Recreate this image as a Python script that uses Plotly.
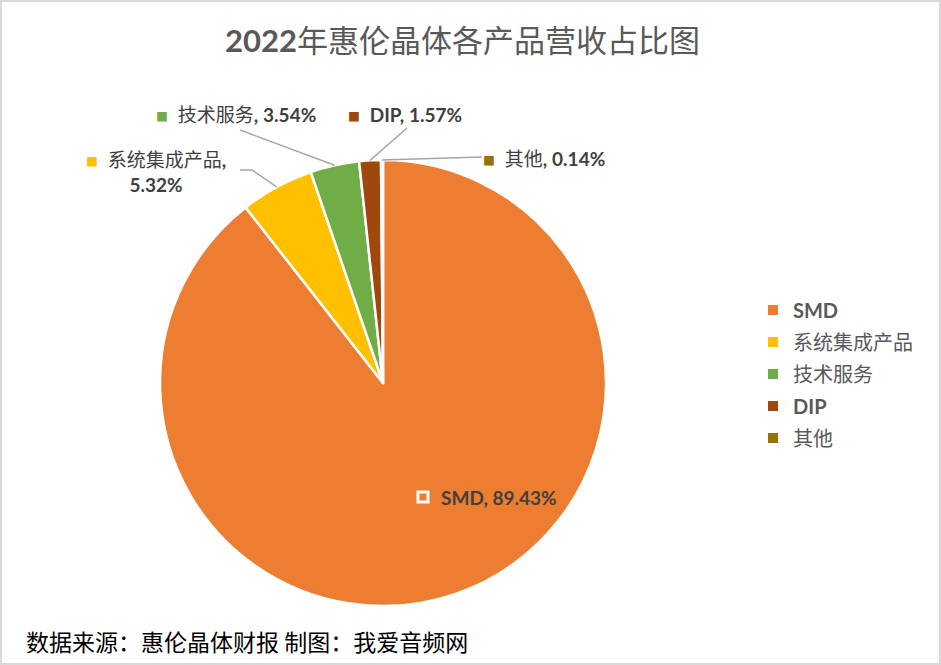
import math
import plotly.graph_objects as go

# ---- data ----
categories = ["SMD", "系统集成产品", "技术服务", "DIP", "其他"]
shares = [89.43, 5.32, 3.54, 1.57, 0.14]
colors = ["#ED7D31", "#FFC000", "#70AD47", "#9E480E", "#997300"]
title_year = "2022"
title_rest = "年惠伦晶体各产品营收占比图"
footer = "数据来源：惠伦晶体财报 制图：我爱音频网"

# ---- layout constants (pixels) ----
W, H = 941, 665
CX, CY, R = 383, 383, 223
LAT = "Lato, 'Noto Sans CJK SC', sans-serif"
CJK = "'Noto Sans CJK SC', sans-serif"


def px(x):
    return x / W


def py(y):
    return 1 - y / H


def edge_point(i):
    total = sum(shares)
    cum = sum(shares[:i]) + shares[i] / 2
    th = 2 * math.pi * cum / total
    return CX + R * math.sin(th), CY - R * math.cos(th)


def fmt_label(i, br=False):
    name = categories[i]
    pct = f"{shares[i]:.2f}%"
    if name.isascii():
        body = f"<b>{name}, {pct}</b>"
    else:
        body = f"{name}<b>,</b>" + ("<br>" if br else " ") + f"<b>{pct}</b>"
    return body


fig = go.Figure()
fig.add_trace(go.Pie(
    labels=categories, values=shares, sort=False, direction="clockwise", rotation=0,
    marker=dict(colors=colors, line=dict(color="white", width=2.5)),
    textinfo="none", showlegend=False, hoverinfo="label+percent",
    domain=dict(x=[px(CX - R), px(CX + R)], y=[py(CY + R), py(CY - R)]),
))

# legend via proxy traces
for name, c in zip(categories, colors):
    fig.add_trace(go.Scatter(
        x=[None], y=[None], mode="markers", name=f"<b>{name}</b>" if name.isascii() else name,
        marker=dict(symbol="square", size=10, color=c), legendgroup=name,
    ))

# label positions (layout) : elbow points and text anchor
label_cfg = {
    1: dict(path=[(252, 170), (240, 170)], text=(156, 172), xanchor="center", br=True),
    2: dict(path=[(240, 130)], text=(236, 114), xanchor="center", br=False),
    3: dict(path=[(407, 128)], text=(405, 114), xanchor="center", br=False),
    4: dict(path=[(482, 157)], text=(481, 158), xanchor="left", br=False),
}

shapes = []
annotations = []
for i, cfg in label_cfg.items():
    ex, ey = edge_point(i)
    pts = [(ex, ey)] + cfg["path"]
    d = "M " + " L ".join(f"{px(x)},{py(y)}" for x, y in pts)
    shapes.append(dict(type="path", path=d, xref="paper", yref="paper",
                       line=dict(color="#A6A6A6", width=1.5)))
    marker = f'<span style="color:{colors[i]};font-size:12px">■</span>  '
    annotations.append(dict(
        x=px(cfg["text"][0]), y=py(cfg["text"][1]), xref="paper", yref="paper",
        xanchor=cfg["xanchor"], yanchor="middle", showarrow=False, align="center",
        text=marker + fmt_label(i, cfg["br"]),
        font=dict(family=LAT, size=19, color="#404040"),
    ))

# SMD inside label (white-outlined key box + text)
shapes.append(dict(type="rect", xref="paper", yref="paper",
                   x0=px(418), x1=px(428), y0=py(502), y1=py(492),
                   line=dict(color="white", width=3), fillcolor=colors[0]))
annotations.append(dict(
    x=px(439), y=py(497), xref="paper", yref="paper", xanchor="left", yanchor="middle",
    showarrow=False, text=fmt_label(0),
    font=dict(family=LAT, size=19, color="#404040"),
))

# title
annotations.append(dict(
    x=px(462), y=py(40), xref="paper", yref="paper", xanchor="center", yanchor="middle",
    showarrow=False, text=f"<b>{title_year}</b>{title_rest}",
    font=dict(family=LAT, size=31, color="#595959"),
))
# footer
annotations.append(dict(
    x=px(24), y=py(641), xref="paper", yref="paper", xanchor="left", yanchor="middle",
    showarrow=False, text=footer, font=dict(family=CJK, size=23, color="#000000"),
))

# frame
shapes.append(dict(type="rect", xref="paper", yref="paper", x0=0.001, y0=0.0015, x1=0.999, y1=0.9985,
                   line=dict(color="#D9D9D9", width=2)))

fig.update_layout(
    width=W, height=H, margin=dict(l=0, r=0, t=0, b=0),
    paper_bgcolor="white", plot_bgcolor="white",
    xaxis=dict(visible=False), yaxis=dict(visible=False),
    showlegend=True,
    legend=dict(x=px(753), y=py(374), xanchor="left", yanchor="middle",
                font=dict(family=LAT, size=20, color="#595959"),
                tracegroupgap=3, itemclick=False, bgcolor="rgba(0,0,0,0)"),
    shapes=shapes, annotations=annotations,
)

fig.write_html("out.html")
